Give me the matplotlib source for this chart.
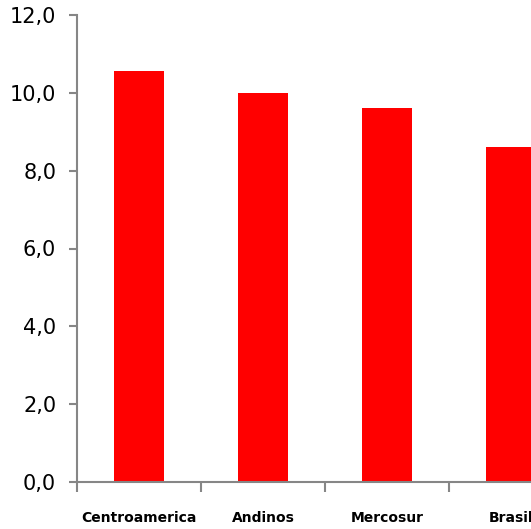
import matplotlib
matplotlib.use("Agg")
import matplotlib.pyplot as plt
from matplotlib.ticker import FuncFormatter, FixedLocator

regions = ["Centroamerica", "Andinos", "Mercosur", "Brasil"]
values = [10.55, 10.0, 9.62, 8.6]
y_ticks = [0, 2, 4, 6, 8, 10, 12]

fig = plt.figure(figsize=(5.31, 5.29), dpi=100)
# axes runs past the right edge so the last bar is cut off
ax = fig.add_axes([77 / 531, 47 / 529, 496 / 531, 467 / 529])

x = range(len(regions))
ax.bar(x, values, width=0.4, color="#ff0000", zorder=2)

ax.set_xlim(-0.5, len(regions) - 0.5)
ax.set_ylim(0, 12)

grey = "#868686"
for side in ["top", "right"]:
    ax.spines[side].set_visible(False)
for side in ["left", "bottom"]:
    ax.spines[side].set_color(grey)
    ax.spines[side].set_linewidth(1.5)

ax.set_yticks(y_ticks)
ax.yaxis.set_major_formatter(FuncFormatter(lambda v, p: f"{v:.1f}".replace(".", ",")))
ax.tick_params(axis="y", length=6, width=1.5, color=grey, pad=9,
               labelsize=15, labelcolor="black")

# category boundaries get the tick marks, names sit in between
ax.xaxis.set_major_locator(FixedLocator([-0.5, 0.5, 1.5, 2.5, 3.5]))
ax.xaxis.set_major_formatter(FuncFormatter(lambda v, p: ""))
ax.xaxis.set_minor_locator(FixedLocator(list(x)))
ax.set_xticklabels(regions, minor=True, fontsize=10, fontweight="bold")
ax.tick_params(axis="x", which="major", length=7, width=1.5, color=grey)
ax.tick_params(axis="x", which="minor", length=0, pad=21)

fig.savefig("out.png", dpi=100)
